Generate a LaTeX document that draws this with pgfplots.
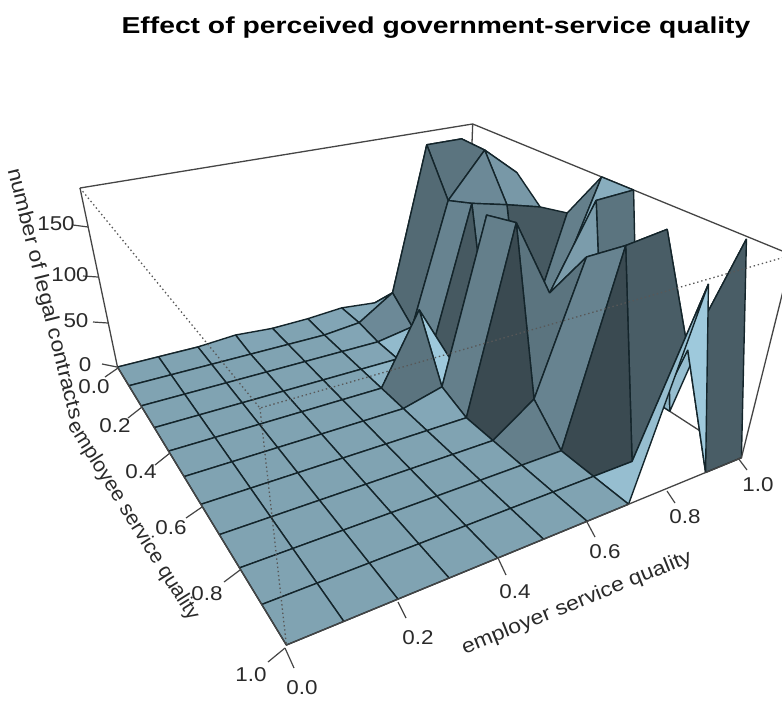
\documentclass[border=0pt]{standalone}
\usepackage{pgfplots}
\usepackage{pgfplotstable}
\usepackage{fontspec}
\setmainfont{Liberation Sans}
\pgfplotsset{compat=1.18}
% surface vertices: x, y, z (number of legal contracts); vertex number = 11*(10x) + 10y
\pgfplotstableread{
x y z
0 0 0
0 .1 0
0 .2 0
0 .3 0
0 .4 0
0 .5 0
0 .6 0
0 .7 0
0 .8 0
0 .9 0
0 1 0
.1 0 0
.1 .1 0
.1 .2 0
.1 .3 0
.1 .4 0
.1 .5 0
.1 .6 0
.1 .7 0
.1 .8 0
.1 .9 0
.1 1 0
.2 0 0
.2 .1 0
.2 .2 0
.2 .3 0
.2 .4 0
.2 .5 0
.2 .6 0
.2 .7 0
.2 .8 0
.2 .9 0
.2 1 0
.3 0 3
.3 .1 0
.3 .2 0
.3 .3 0
.3 .4 0
.3 .5 0
.3 .6 0
.3 .7 0
.3 .8 0
.3 .9 0
.3 1 0
.4 0 0
.4 .1 0
.4 .2 0
.4 .3 0
.4 .4 0
.4 .5 0
.4 .6 0
.4 .7 0
.4 .8 0
.4 .9 0
.4 1 0
.5 0 1
.5 .1 0
.5 .2 0
.5 .3 0
.5 .4 0
.5 .5 0
.5 .6 0
.5 .7 0
.5 .8 0
.5 .9 0
.5 1 0
.6 0 4
.6 .1 4
.6 .2 0
.6 .3 0
.6 .4 74
.6 .5 11
.6 .6 0
.6 .7 0
.6 .8 0
.6 .9 0
.6 1 0
.7 0 0
.7 .1 30
.7 .2 7
.7 .3 4
.7 .4 0
.7 .5 173
.7 .6 180
.7 .7 30
.7 .8 0
.7 .9 0
.7 1 0
.8 0 0
.8 .1 186
.8 .2 140
.8 .3 150
.8 .4 0
.8 .5 0
.8 .6 106
.8 .7 156
.8 .8 181
.8 .9 0
.8 1 182
.9 0 0
.9 .1 186
.9 .2 185
.9 .3 141
.9 .4 0
.9 .5 80
.9 .6 184
.9 .7 0
.9 .8 186
.9 .9 97
.9 1 0
1 0 0
1 .1 158
1 .2 155
1 .3 131
1 .4 138
1 .5 186
1 .6 186
1 .7 0
1 .8 0
1 .9 184
1 1 0
}\vertices
\pgfplotsset{table/proj/.style={
  x expr={(132.4+496.5*\thisrow{x}+77.6*\thisrow{y}-52.4*\thisrow{z}/186)/(1.127+.2196*\thisrow{x}-.3937*\thisrow{y}-.127*\thisrow{z}/186)},
  y expr={(413.6-36.8*\thisrow{x}+59.4*\thisrow{y}-225.6*\thisrow{z}/186)/(1.127+.2196*\thisrow{x}-.3937*\thisrow{y}-.127*\thisrow{z}/186)}}}
\definecolor{boxc}{HTML}{454545}
\definecolor{edgec}{HTML}{14252B}
\definecolor{txt}{HTML}{2A2A2A}
\tikzset{tl/.style={font=\fontsize{20}{22}\selectfont,text=txt,inner sep=0pt},
 al/.style={font=\fontsize{20.5}{23}\selectfont,text=txt,inner sep=0pt}}
\newcommand{\wider}[1]{\scalebox{1.12}[1]{#1}}
\begin{document}
\begin{tikzpicture}[x=1pt,y=1pt]
\path[use as bounding box] (0,0) rectangle (782,702);
\begin{axis}[at={(0,0)},anchor=south west,scale only axis,width=782pt,height=702pt,
  xmin=0,xmax=782,ymin=0,ymax=702,y dir=reverse,hide axis,clip=true,
  colormap={persp}{rgb255(0cm)=(0,0,0); rgb255(1cm)=(165,210,230)},
  point meta min=0,point meta max=1]
% box: back edges
\addplot[boxc,line width=1.3pt,no marks] table[proj] {
x y z
0 0 186
1 0 186
1 1 186
};
\addplot[boxc,line width=1.3pt,no marks] table[proj] {
x y z
1 0 186
1 0 0
0 0 0
};
\addplot[boxc,line width=1.3pt,no marks] table[proj] {
x y z
1 0 0
1 1 0
};
% surface: facets far to near, four vertex numbers and the facet's shade
\addplot[patch,patch type=rectangle,shader=faceted,faceted color=edgec,line width=1.4pt,
  table/row sep=\\,
  patch table with point meta={
99 110 111 100 .6\\
100 111 112 101 .7\\
101 112 113 102 .72\\
102 113 114 103 .42\\
103 114 115 104 .6\\
104 115 116 105 .82\\
105 116 117 106 .55\\
106 117 118 107 .85\\
107 118 119 108 .9\\
108 119 120 109 .44\\
88 99 100 89 .6\\
89 100 101 90 .55\\
90 101 102 91 .65\\
91 102 103 92 .6\\
92 103 104 93 .6\\
93 104 105 94 .8\\
94 105 106 95 .74\\
95 106 107 96 .5\\
96 107 108 97 .44\\
97 108 109 98 .95\\
77 88 89 78 .55\\
78 89 90 79 .5\\
79 90 91 80 .62\\
80 91 92 81 .42\\
81 92 93 82 .6\\
82 93 94 83 .5\\
83 94 95 84 .55\\
84 95 96 85 .62\\
85 96 97 86 .35\\
86 97 98 87 .9\\
66 77 78 67 .8\\
67 78 79 68 .65\\
68 79 80 69 .88\\
69 80 81 70 .85\\
70 81 82 71 .95\\
71 82 83 72 .6\\
72 83 84 73 .35\\
73 84 85 74 .6\\
74 85 86 75 .77\\
75 86 87 76 .77\\
55 66 67 56 .78\\
56 67 68 57 .78\\
57 68 69 58 .78\\
58 69 70 59 .85\\
59 70 71 60 .55\\
60 71 72 61 .79\\
61 72 73 62 .77\\
62 73 74 63 .77\\
63 74 75 64 .77\\
64 75 76 65 .77\\
44 55 56 45 .77\\
45 56 57 46 .77\\
46 57 58 47 .77\\
47 58 59 48 .77\\
48 59 60 49 .77\\
49 60 61 50 .77\\
50 61 62 51 .77\\
51 62 63 52 .77\\
52 63 64 53 .77\\
53 64 65 54 .77\\
33 44 45 34 .78\\
34 45 46 35 .77\\
35 46 47 36 .77\\
36 47 48 37 .77\\
37 48 49 38 .77\\
38 49 50 39 .77\\
39 50 51 40 .77\\
40 51 52 41 .77\\
41 52 53 42 .77\\
42 53 54 43 .77\\
22 33 34 23 .78\\
23 34 35 24 .77\\
24 35 36 25 .77\\
25 36 37 26 .77\\
26 37 38 27 .77\\
27 38 39 28 .77\\
28 39 40 29 .77\\
29 40 41 30 .77\\
30 41 42 31 .77\\
31 42 43 32 .77\\
11 22 23 12 .77\\
12 23 24 13 .77\\
13 24 25 14 .77\\
14 25 26 15 .77\\
15 26 27 16 .77\\
16 27 28 17 .77\\
17 28 29 18 .77\\
18 29 30 19 .77\\
19 30 31 20 .77\\
20 31 32 21 .77\\
0 11 12 1 .77\\
1 12 13 2 .77\\
2 13 14 3 .77\\
3 14 15 4 .77\\
4 15 16 5 .77\\
5 16 17 6 .77\\
6 17 18 7 .77\\
7 18 19 8 .77\\
8 19 20 9 .77\\
9 20 21 10 .77\\
}] table[proj] {\vertices};
% box: front edges
\addplot[boxc!90!white,line width=1.3pt,dash pattern=on 1.4pt off 2.8pt,no marks] table[proj] {
x y z
0 0 186
0 1 186
1 1 186
};
\addplot[boxc!90!white,line width=1.3pt,dash pattern=on 1.4pt off 2.8pt,no marks] table[proj] {
x y z
0 1 186
0 1 0
};
\addplot[boxc,line width=1.3pt,no marks] table[proj] {
x y z
0 0 186
0 0 0
0 1 0
1 1 0
1 1 186
};
% tick marks
\draw[boxc,line width=1.2pt] (118,368)--(105,377) (142,407)--(128,418) (170,453)--(155,465) (202,507)--(186,518) (240,570)--(224,582) (285,648)--(268,662);
\draw[boxc,line width=1.2pt] (285,648)--(294,668) (398,602)--(406,618) (498,558)--(506,575) (587,522)--(595,537) (667,491)--(675,503) (738,458)--(747,470);
\draw[boxc,line width=1.2pt] (88,227)--(73,225) (98,277)--(83,276) (108,323)--(93,322) (117,367)--(102,364);
% tick labels
\node[tl] at (94,387) {\wider{0.0}};
\node[tl] at (115,426) {\wider{0.2}};
\node[tl] at (141,472) {\wider{0.4}};
\node[tl] at (171,528) {\wider{0.6}};
\node[tl] at (207,594) {\wider{0.8}};
\node[tl] at (251,675) {\wider{1.0}};
\node[tl] at (302,688) {\wider{0.0}};
\node[tl] at (418,638) {\wider{0.2}};
\node[tl] at (515,592) {\wider{0.4}};
\node[tl] at (605,552) {\wider{0.6}};
\node[tl] at (685,517) {\wider{0.8}};
\node[tl] at (758,485) {\wider{1.0}};
\node[tl] at (85,365) {\wider{0}};
\node[tl] at (76,321) {\wider{50}};
\node[tl] at (70,275) {\wider{100}};
\node[tl] at (56,224) {\wider{150}};
% axis titles
\node[al,rotate=22] at (577,603) {\wider{employer service quality}};
\node[al,rotate=-58] at (133,521) {\scalebox{1.03}[1]{employee service quality}};
\node[al,rotate=-76] at (44,294) {\wider{number of legal contracts}};
\node[font=\fontsize{23}{25}\selectfont\bfseries,text=black,inner sep=0pt] at (436,28) {\scalebox{1.23}[1]{Effect of perceived government-service quality}};
\end{axis}
\end{tikzpicture}
\end{document}
